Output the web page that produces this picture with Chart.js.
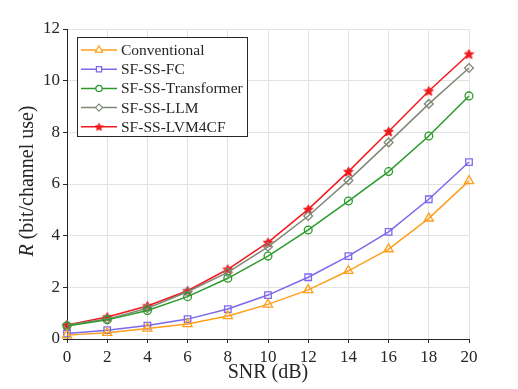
<!DOCTYPE html>
<html>
<head>
<meta charset="utf-8">
<script src="https://cdn.jsdelivr.net/npm/chart.js@4/dist/chart.umd.min.js"></script>
<style>
  html, body { margin:0; padding:0; background:#fff; }
  #wrap { width:518px; height:389px; }
</style>
</head>
<body>
<div id="wrap"><canvas id="c" width="518" height="389"></canvas></div>
<script>
const snr = [0, 2, 4, 6, 8, 10, 12, 14, 16, 18, 20];
const conventional = [0.15, 0.24, 0.41, 0.58, 0.89, 1.34, 1.90, 2.64, 3.48, 4.67, 6.12];
const sfssFC = [0.21, 0.34, 0.52, 0.77, 1.16, 1.70, 2.39, 3.21, 4.15, 5.41, 6.85];
const sfssTransformer = [0.50, 0.74, 1.10, 1.64, 2.35, 3.21, 4.22, 5.34, 6.48, 7.86, 9.41];
const sfssLLM = [0.54, 0.77, 1.19, 1.83, 2.58, 3.57, 4.76, 6.14, 7.61, 9.10, 10.49];
const sfssLVM4CF = [0.54, 0.85, 1.28, 1.87, 2.70, 3.74, 5.02, 6.48, 8.03, 9.60, 11.03];
const seriesNames = ["Conventional", "SF-SS-FC", "SF-SS-Transformer", "SF-SS-LLM", "SF-SS-LVM4CF"];

const FONT = "'Liberation Serif', 'Times New Roman', serif";
const INK = "#262626";

// filled 5-point star used as marker
function makeStar(size, color){
  const cv = document.createElement("canvas");
  cv.width = size; cv.height = size;
  const g = cv.getContext("2d");
  const cx = size/2, cy = size/2 + 0.4, R = size/2 - 0.5, r = R*0.45;
  g.beginPath();
  for(let i=0;i<10;i++){
    const a = -Math.PI/2 + i*Math.PI/5;
    const rr = i%2===0 ? R : r;
    g.lineTo(cx + rr*Math.cos(a), cy + rr*Math.sin(a));
  }
  g.closePath();
  g.fillStyle = color; g.fill();
  g.strokeStyle = color; g.lineWidth = 1; g.stroke();
  return cv;
}
const starBig = makeStar(11, "#f0191e");
const starSmall = makeStar(9, "#f0191e");

function ds(label, data, color, style, radius){
  return {
    label: label,
    data: snr.map((x,i)=>({x:x, y:data[i]})),
    borderColor: color,
    backgroundColor: "rgba(255,255,255,0)",
    pointBorderColor: color,
    pointBackgroundColor: "rgba(255,255,255,0)",
    borderWidth: 1.5,
    pointBorderWidth: 1.3,
    pointStyle: style,
    pointRadius: radius,
    tension: 0,
    clip: false
  };
}

const datasets = [
  ds(seriesNames[0], conventional, "#ff9f1c", "triangle", 5.3),
  ds(seriesNames[1], sfssFC, "#7b68ee", "rect", 4.6),
  ds(seriesNames[2], sfssTransformer, "#2a9a2a", "circle", 3.9),
  ds(seriesNames[3], sfssLLM, "#7f8876", "rectRot", 4.4),
  ds(seriesNames[4], sfssLVM4CF, "#f0191e", starBig, 6)
];

/* legend + axis titles drawn by hand */
const extras = {
  id: "extras",
  afterDraw(chart){
    const ctx = chart.ctx;
    const area = chart.chartArea;
    ctx.save();
    ctx.fillStyle = INK;
    ctx.textBaseline = "middle";
    ctx.textAlign = "center";
    ctx.font = "20px " + FONT;
    ctx.fillText("SNR (dB)", (area.left + area.right)/2, 373);

    // y axis title with italic R
    ctx.translate(28, 181);
    ctx.rotate(-Math.PI/2);
    const f1 = "italic 20px " + FONT, f2 = "20px " + FONT;
    const t2 = " (bit/channel use)";
    ctx.font = f1; const w1 = ctx.measureText("R").width;
    ctx.font = f2; const w2 = ctx.measureText(t2).width;
    let sx = -(w1+w2)/2;
    ctx.textAlign = "left";
    ctx.font = f1; ctx.fillText("R", sx, 0);
    ctx.font = f2; ctx.fillText(t2, sx + w1, 0);
    ctx.restore();

    // legend box
    ctx.save();
    const bx = 77, by = 37, bw = 170, bh = 99;
    ctx.fillStyle = "#fff";
    ctx.fillRect(bx, by, bw, bh);
    ctx.strokeStyle = INK; ctx.lineWidth = 1;
    ctx.strokeRect(bx + 0.5, by + 0.5, bw, bh);
    ctx.font = "15.5px " + FONT;
    ctx.textBaseline = "middle"; ctx.textAlign = "left";
    chart.data.datasets.forEach((d, i)=>{
      const y = 50 + i*19.2;
      ctx.strokeStyle = d.borderColor; ctx.lineWidth = 1.5;
      ctx.beginPath(); ctx.moveTo(81, y); ctx.lineTo(117, y); ctx.stroke();
      const style = d.pointStyle === starBig ? starSmall : d.pointStyle;
      ctx.strokeStyle = d.borderColor;
      ctx.fillStyle = "#fff";
      ctx.lineWidth = 1.2;
      Chart.helpers.drawPoint(ctx, {
        pointStyle: style, radius: d.pointRadius*0.8, rotation: 0, borderWidth: 1.2
      }, 99, y);
      ctx.fillStyle = INK;
      ctx.fillText(d.label, 121, y + 1);
    });
    ctx.restore();
  }
};

new Chart(document.getElementById("c"), {
  type: "line",
  data: { datasets: datasets },
  plugins: [extras],
  options: {
    responsive: false,
    animation: false,
    devicePixelRatio: 1,
    layout: { padding: { left: 0, top: 29, right: 49, bottom: 0 } },
    plugins: { legend: { display: false }, tooltip: { enabled: false } },
    scales: {
      x: {
        type: "linear", min: 0, max: 20,
        ticks: { stepSize: 2, color: INK, font: { family: FONT, size: 17 }, padding: 4, maxRotation: 0 },
        grid: { color: "#e3e3e3", tickColor: INK, tickLength: 4, lineWidth: 1 },
        border: { display: true, color: INK, width: 1 },
        afterFit(s){ s.height = 50; }
      },
      y: {
        min: 0, max: 12,
        ticks: { stepSize: 2, color: INK, font: { family: FONT, size: 17 }, padding: 3 },
        grid: { color: "#e3e3e3", tickColor: INK, tickLength: 4, lineWidth: 1 },
        border: { display: true, color: INK, width: 1 },
        afterFit(s){ s.width = 67; }
      }
    }
  }
});
</script>
</body>
</html>
